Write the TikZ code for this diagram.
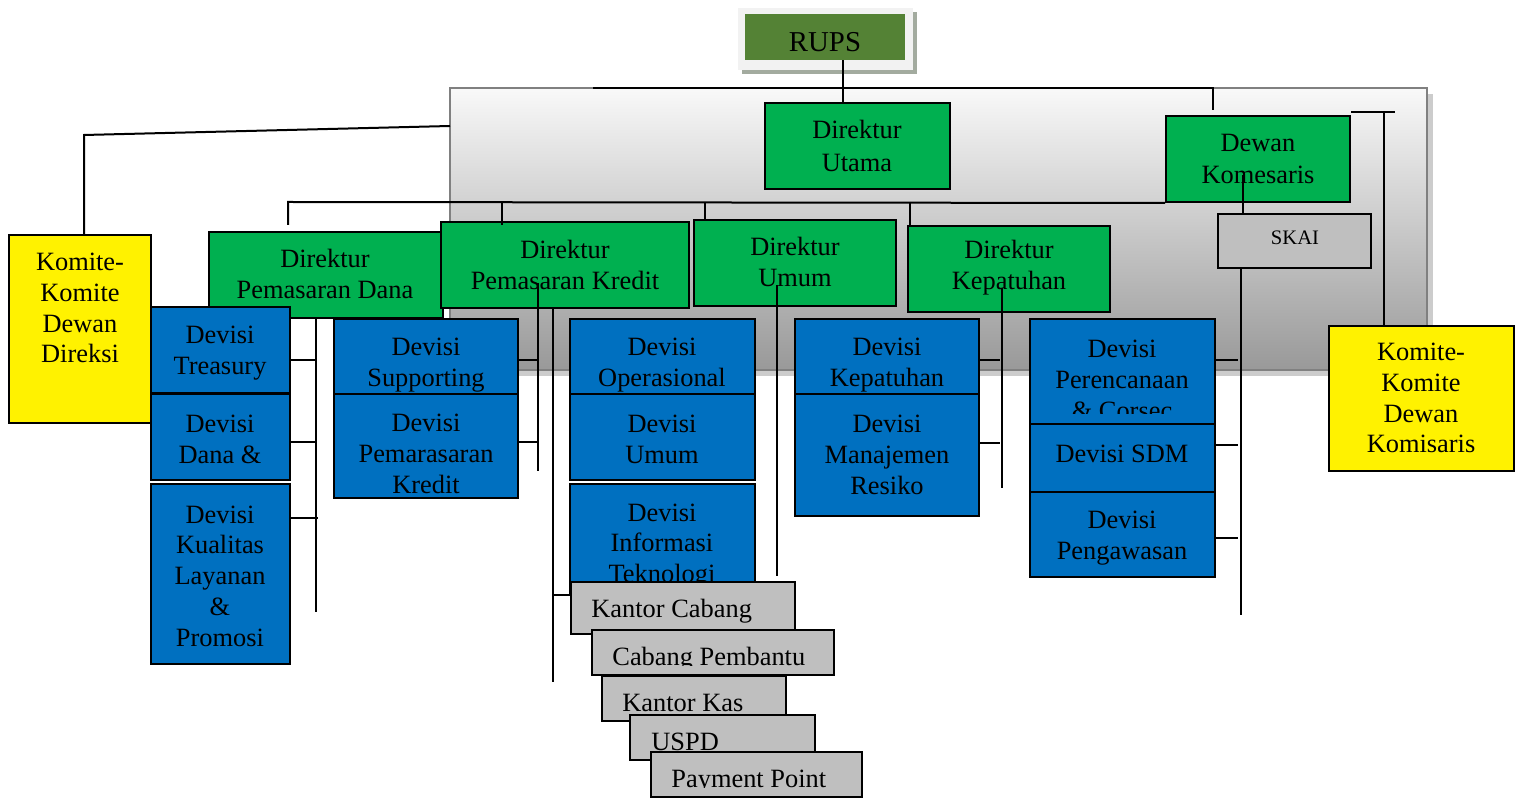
\documentclass[tikz,border=0pt]{standalone}
\usepackage{fontspec}
\setmainfont{Liberation Serif}
\usetikzlibrary{fit}
\definecolor{dgreen}{HTML}{00B050}
\definecolor{dblue}{HTML}{0070C0}
\definecolor{rupsg}{HTML}{548235}
\definecolor{lgray}{HTML}{BFBFBF}
\definecolor{rshadow}{HTML}{A3AB9F}
\newcommand\myfs{\fontsize{13.2}{15.4}\selectfont}
\newcommand\bx[6]{\node[#6, fit={(#2,#3) (#4,#5)}] (#1) {};}
\tikzset{
  box/.style={draw=black, line width=1pt, inner sep=0pt},
  grn/.style={box, fill=dgreen},
  blu/.style={box, fill=dblue},
  yel/.style={box, fill=yellow},
  gry/.style={box, fill=lgray},
  txt/.style={align=center, font=\myfs, inner sep=0pt},
  btxt/.style={txt, yshift=-1.5pt},
  ltxt/.style={anchor=west, font=\myfs, inner sep=0pt},
  ln/.style={line width=1pt, draw=black},
}
\begin{document}
\begin{tikzpicture}[x=0.5pt,y=-0.5pt]
\useasboundingbox (0,0) rectangle (1521,801);
% background panel
\fill[gray!40] (456,94) rectangle (1433,376);
\shade[top color=gray!5, bottom color=gray!80] (450,88) rectangle (1427,370);
\draw[line width=1pt, gray] (450,88) rectangle (1427,370);
% RUPS
\fill[rshadow] (742,12) rectangle (917,74);
\fill[gray!10] (738,8) rectangle (913,70);
\node[fill=rupsg, inner sep=0pt, fit={(745,14) (905,60)}] (rups) {};
\node[txt, font=\fontsize{14.4}{16}\selectfont] (rupsT) at (825,42) {RUPS};
% top level boxes
\bx{utama}{765}{103}{950}{189}{grn}
\node[txt] (utamaT) at (857,146) {Direktur\\[1pt]Utama};
\bx{dewan}{1166}{116}{1350}{202}{grn}
\node[txt] (dewanT) at (1258,159) {Dewan\\[1pt]Komesaris};
\bx{kdir}{9}{235}{151}{423}{yel}
\node[txt] (kdirT) at (80,308) {Komite-\\Komite\\Dewan\\Direksi};
\bx{dpd}{209}{232}{443}{318}{grn}
\node[txt] (dpdT) at (325,274) {Direktur\\Pemasaran Dana};
\bx{dpk}{441}{222}{689}{308}{grn}
\node[txt] (dpkT) at (565,265) {Direktur\\Pemasaran Kredit};
\bx{dum}{694}{220}{896}{306}{grn}
\node[txt] (dumT) at (795,262) {Direktur\\Umum};
\bx{dkp}{908}{226}{1110}{312}{grn}
\node[txt] (dkpT) at (1009,268) {Direktur\\Kepatuhan};
\bx{skai}{1218}{214}{1371}{268}{gry}
\node[txt, font=\fontsize{10.3}{12}\selectfont] (skaiT) at (1295,238) {SKAI};
\bx{kkom}{1329}{326}{1514}{471}{yel}
\node[txt] (kkomT) at (1421,398) {Komite-\\Komite\\Dewan\\Komisaris};
% connectors
\draw[ln] (843,0 |- rups.south) -- (843,0 |- utama.north);
\draw[ln] (593,88) -- (1213,88) -- (1213,110);
\draw[ln] (84,0 |- kdir.north) -- (84,135) -- (450,126);
\draw[ln] (288,225) -- (288,202) -- (dewan.south west);
\draw[ln] (502,202) -- (502,225);
\draw[ln] (705,202) -- (705,0 |- dum.north);
\draw[ln] (910,202) -- (910,0 |- dkp.north);
\draw[ln] (1243,175) -- (1243,0 |- skai.north);
\draw[ln] (1241,0 |- skai.south) -- (1241,615);
\draw[ln] (1351,112) -- (1395,112);
\draw[ln] (1384,112) -- (1384,0 |- kkom.north);
\draw[ln] (316,0 |- dpd.south) -- (316,612);
\draw[ln] (538,283) -- (538,471);
\draw[ln] (553,0 |- dpk.south) -- (553,682);
\draw[ln] (777,285) -- (777,576);
\draw[ln] (1002,288) -- (1002,488);
% blue divisions
\bx{treas}{151}{307}{290}{393}{blu}
\node[btxt] (treasT) at (220,350) {Devisi\\Treasury};
\bx{dana}{151}{394}{290}{480}{blu}
\node[btxt] (danaT) at (220,436) {Devisi\\Dana \&};
\bx{kual}{151}{484}{290}{664}{blu}
\node[btxt] (kualT) at (220,573) {Devisi\\Kualitas\\Layanan\\\&\\Promosi};
\bx{supp}{334}{319}{518}{396}{blu}
\node[btxt] (suppT) at (426,362) {Devisi\\Supporting};
\bx{pemk}{334}{394}{518}{498}{blu}
\node[btxt] (pemkT) at (426,451) {Devisi\\Pemarasaran\\Kredit};
\bx{oper}{570}{319}{755}{404}{blu}
\node[btxt] (operT) at (662,362) {Devisi\\Operasional};
\bx{umum}{570}{394}{755}{480}{blu}
\node[btxt] (umumT) at (662,436) {Devisi\\Umum};
\bx{info}{570}{484}{755}{594}{blu}
\node[btxt] (infoT) at (662,543) {Devisi\\Informasi\\Teknologi};
\bx{kepa}{795}{319}{979}{404}{blu}
\node[btxt] (kepaT) at (887,362) {Devisi\\Kepatuhan};
\bx{mane}{795}{394}{979}{516}{blu}
\node[btxt] (maneT) at (887,452) {Devisi\\Manajemen\\Resiko};
\bx{renc}{1030}{319}{1215}{424}{blu}
\begin{scope}
\clip (1030,319) rectangle (1215,414);
\node[btxt] (rencT) at (1122,377) {Devisi\\Perencanaan\\\& Corsec};
\end{scope}
\bx{sdm}{1030}{424}{1215}{492}{blu}
\node[btxt] (sdmT) at (1122,451) {Devisi SDM};
\bx{peng}{1030}{492}{1215}{577}{blu}
\node[btxt] (pengT) at (1122,535) {Devisi\\Pengawasan};
% ticks
\draw[ln] (treas.east |- 0,360) -- (316,360);
\draw[ln] (dana.east |- 0,442) -- (316,442);
\draw[ln] (kual.east |- 0,518) -- (318,518);
\draw[ln] (supp.east |- 0,360) -- (538,360);
\draw[ln] (pemk.east |- 0,442) -- (538,442);
\draw[ln] (kepa.east |- 0,360) -- (1000,360);
\draw[ln] (mane.east |- 0,443) -- (1000,443);
\draw[ln] (renc.east |- 0,360) -- (1238,360);
\draw[ln] (sdm.east |- 0,445) -- (1238,445);
\draw[ln] (peng.east |- 0,538) -- (1238,538);
% branch offices
\bx{kc}{571}{582}{795}{634}{gry}
\node[ltxt] (kcT) at (591,611) {Kantor Cabang};
\draw[ln] (553,595) -- (kc.west |- 0,595);
\bx{cp}{592}{630}{834}{675}{gry}
\begin{scope}
\clip (592,630) rectangle (834,666);
\node[ltxt] (cpT) at (612,659) {Cabang Pembantu};
\end{scope}
\bx{kk}{602}{676}{786}{721}{gry}
\node[ltxt] (kkT) at (622,703) {Kantor Kas};
\bx{uspd}{630}{715}{815}{760}{gry}
\node[ltxt] (uspdT) at (651,742) {USPD};
\bx{pp}{651}{752}{862}{797}{gry}
\begin{scope}
\clip (651,752) rectangle (862,787);
\node[ltxt] (ppT) at (671,782) {Payment Point};
\end{scope}
\end{tikzpicture}
\end{document}
